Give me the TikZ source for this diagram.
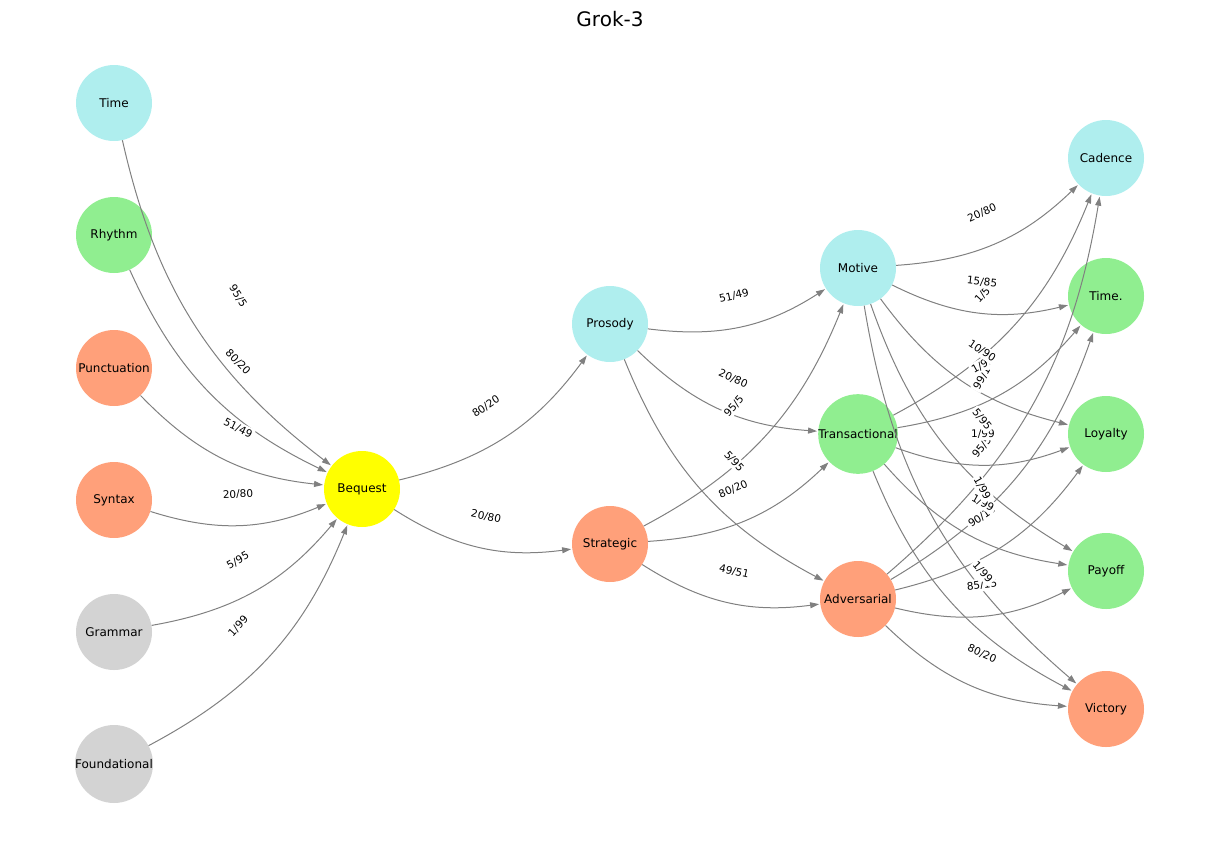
\documentclass[tikz,border=0pt]{standalone}
\usepackage{fontspec}
\setmainfont{DejaVu Sans}
\usetikzlibrary{arrows.meta}

\definecolor{cyanfill}{HTML}{AFEEEE}
\definecolor{greenfill}{HTML}{90EE90}
\definecolor{salmonfill}{HTML}{FFA07A}
\definecolor{grayfill}{HTML}{D3D3D3}
\definecolor{yellowfill}{HTML}{FFFF00}
\definecolor{linkgray}{HTML}{808080}

\tikzset{
  vtx/.style={circle, minimum size=76pt, inner sep=0pt, font=\fontsize{12}{14}\selectfont},
  cyanvtx/.style={vtx, fill=cyanfill},
  greenvtx/.style={vtx, fill=greenfill},
  salmonvtx/.style={vtx, fill=salmonfill},
  grayvtx/.style={vtx, fill=grayfill},
  lnk/.style={draw=linkgray, line width=1pt, -{Triangle[length=9pt,width=6pt]}, bend right=20, shorten >=1pt},
  elbl/.style={fill=white, rounded corners=2pt, inner sep=2pt, font=\fontsize{10.5}{12}\selectfont, sloped, midway}
}

\begin{document}
\begin{tikzpicture}[x=1pt, y=-1pt]
\useasboundingbox (0,0) rectangle (1220,844);
\node[font=\fontsize{20}{24}\selectfont] (title) at (610,19) {Grok-3};

% first column
\node[cyanvtx] (time) at (114,103) {Time};
\node[greenvtx] (rhythm) at (114,235) {Rhythm};
\node[salmonvtx] (punct) at (114,368) {Punctuation};
\node[salmonvtx] (syntax) at (114,500) {Syntax};
\node[grayvtx] (grammar) at (114,632) {Grammar};
\node[grayvtx] (found) at (114,764) {Foundational};

\node[vtx, fill=yellowfill] (bequest) at (362,489) {Bequest};

\node[cyanvtx] (prosody) at (610,324) {Prosody};
\node[salmonvtx] (strategic) at (610,544) {Strategic};

\node[cyanvtx] (motive) at (858,268) {Motive};
\node[greenvtx] (trans) at (858,434) {Transactional};
\node[salmonvtx] (advers) at (858,599) {Adversarial};

% last column
\node[cyanvtx] (cadence) at (1106,158) {Cadence};
\node[greenvtx] (timeb) at (1106,296) {Time.};
\node[greenvtx] (loyalty) at (1106,434) {Loyalty};
\node[greenvtx] (payoff) at (1106,571) {Payoff};
\node[salmonvtx] (victory) at (1106,709) {Victory};

\foreach \a/\b/\w in {time/bequest/{95/5}, rhythm/bequest/{80/20}, punct/bequest/{51/49},
    syntax/bequest/{20/80}, grammar/bequest/{5/95}, found/bequest/{1/99},
    bequest/prosody/{80/20}, bequest/strategic/{20/80},
    prosody/motive/{51/49}, prosody/trans/{20/80}, prosody/advers/{5/95},
    strategic/motive/{95/5}, strategic/trans/{80/20}, strategic/advers/{49/51},
    advers/cadence/{99/1}, advers/timeb/{95/5}, advers/loyalty/{90/10},
    advers/payoff/{85/15}, advers/victory/{80/20},
    trans/cadence/{1/5}, trans/timeb/{1/99}, trans/loyalty/{1/99},
    trans/payoff/{1/99}, trans/victory/{1/99},
    motive/cadence/{20/80}, motive/timeb/{15/85}, motive/loyalty/{10/90},
    motive/payoff/{5/95}, motive/victory/{1/99}}
  \draw[lnk] (\a) to (\b);

\foreach \a/\b/\w in {time/bequest/{95/5}, rhythm/bequest/{80/20}, punct/bequest/{51/49},
    syntax/bequest/{20/80}, grammar/bequest/{5/95}, found/bequest/{1/99},
    bequest/prosody/{80/20}, bequest/strategic/{20/80},
    prosody/motive/{51/49}, prosody/trans/{20/80}, prosody/advers/{5/95},
    strategic/motive/{95/5}, strategic/trans/{80/20}, strategic/advers/{49/51},
    advers/cadence/{99/1}, advers/timeb/{95/5}, advers/loyalty/{90/10},
    advers/payoff/{85/15}, advers/victory/{80/20},
    trans/cadence/{1/5}, trans/timeb/{1/99}, trans/loyalty/{1/99},
    trans/payoff/{1/99}, trans/victory/{1/99},
    motive/cadence/{20/80}, motive/timeb/{15/85}, motive/loyalty/{10/90},
    motive/payoff/{5/95}, motive/victory/{1/99}}
  \path (\a) -- node[elbl] {\w} (\b);
\end{tikzpicture}
\end{document}
